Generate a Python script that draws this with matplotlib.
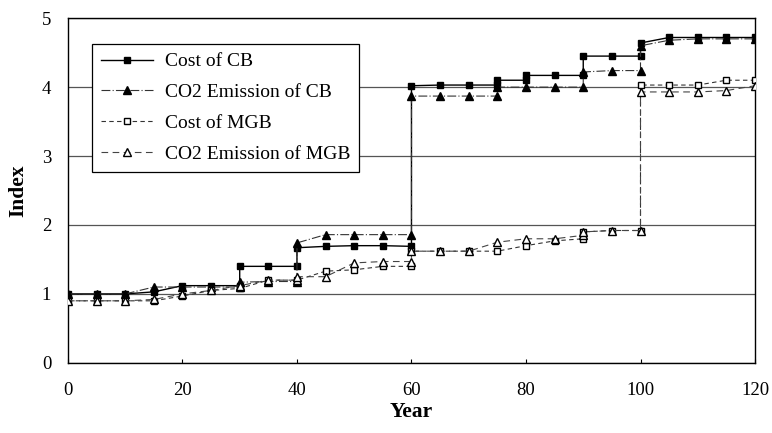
import matplotlib.pyplot as plt

plt.rcParams['font.family'] = ['Liberation Serif', 'DejaVu Serif']

# step series: a year listed twice holds the value before and after a replacement
cost_cb_x = [0, 5, 10, 15, 20, 25, 30, 30, 35, 40, 40, 45, 50, 55, 60, 60, 65, 70, 75, 75,
             80, 80, 85, 90, 90, 95, 100, 100, 105, 110, 115, 120]
cost_cb_y = [1.0, 1.0, 1.0, 1.03, 1.12, 1.12, 1.12, 1.40, 1.40, 1.40, 1.67, 1.69, 1.70, 1.70,
             1.69, 4.02, 4.03, 4.03, 4.03, 4.10, 4.10, 4.17, 4.17, 4.17, 4.45, 4.45, 4.45,
             4.64, 4.72, 4.72, 4.72, 4.72]

co2_cb_x = [0, 5, 10, 15, 20, 25, 30, 30, 35, 40, 40, 45, 50, 55, 60, 60, 65, 70, 75, 75,
            80, 85, 90, 90, 95, 100, 100, 105, 110, 115, 120]
co2_cb_y = [1.0, 1.0, 1.0, 1.10, 1.10, 1.10, 1.10, 1.17, 1.18, 1.18, 1.74, 1.86, 1.86, 1.86,
            1.86, 3.87, 3.87, 3.87, 3.87, 4.0, 4.0, 4.0, 4.0, 4.22, 4.24, 4.24, 4.60, 4.68,
            4.70, 4.70, 4.70]

cost_mgb_x = [0, 5, 10, 15, 20, 25, 30, 35, 40, 45, 50, 55, 60, 60, 65, 70, 75, 80, 85, 90,
              90, 95, 100, 100, 105, 110, 115, 120]
cost_mgb_y = [0.9, 0.9, 0.9, 0.9, 0.97, 1.05, 1.08, 1.2, 1.2, 1.33, 1.35, 1.4, 1.4, 1.62,
              1.62, 1.62, 1.62, 1.70, 1.77, 1.80, 1.90, 1.92, 1.92, 4.03, 4.03, 4.03, 4.10,
              4.10]

co2_mgb_x = [0, 5, 10, 15, 20, 25, 30, 35, 40, 40, 45, 50, 55, 60, 60, 65, 70, 75, 80, 85,
             90, 90, 95, 100, 100, 105, 110, 115, 120]
co2_mgb_y = [0.9, 0.9, 0.9, 0.92, 1.0, 1.05, 1.12, 1.2, 1.2, 1.25, 1.25, 1.45, 1.47, 1.47,
             1.62, 1.62, 1.62, 1.75, 1.80, 1.80, 1.85, 1.90, 1.92, 1.92, 3.93, 3.93, 3.93,
             3.95, 4.02]

x_ticks = [0, 20, 40, 60, 80, 100, 120]
y_ticks = [0, 1, 2, 3, 4, 5]

fig = plt.figure(figsize=(7.72, 4.33), dpi=100)
ax = fig.add_axes([0.088, 0.162, 0.89, 0.796])

ax.plot(cost_cb_x, cost_cb_y, color='black', lw=1.0, marker='s', ms=5,
        mfc='black', mec='black', label='Cost of CB', zorder=4)
ax.plot(co2_cb_x, co2_cb_y, color='#333333', lw=0.8, ls=(0, (8, 2, 1, 2)), marker='^', ms=6,
        mfc='black', mec='black', label='CO2 Emission of CB', zorder=4)
ax.plot(cost_mgb_x, cost_mgb_y, color='#333333', lw=0.8, ls=(0, (4, 3)), marker='s', ms=5,
        mfc='white', mec='black', mew=1.0, label='Cost of MGB', zorder=5)
ax.plot(co2_mgb_x, co2_mgb_y, color='#444444', lw=0.8, ls=(0, (6, 4)), marker='^', ms=5.5,
        mfc='white', mec='black', mew=1.0, label='CO2 Emission of MGB', zorder=5)

ax.set_xlim(0, 120)
ax.set_ylim(0, 5)
ax.set_xticks(x_ticks)
ax.set_yticks(y_ticks)
ax.tick_params(axis='both', direction='in', labelsize=13.5, length=3)
ax.tick_params(axis='y', length=0, pad=12)
ax.tick_params(axis='x', pad=14)
ax.yaxis.grid(True, color='#555555', lw=0.9)
ax.set_axisbelow(True)
for s in ax.spines.values():
    s.set_linewidth(1.0)

ax.set_xlabel('Year', fontsize=15.5, fontweight='bold', labelpad=2)
ax.set_ylabel('Index', fontsize=15.5, fontweight='bold', labelpad=10)

leg = ax.legend(loc='upper left', bbox_to_anchor=(0.035, 0.925), borderaxespad=0,
                fontsize=14, handlelength=2.7, handletextpad=0.6, labelspacing=0.68,
                borderpad=0.45, fancybox=False, framealpha=1, edgecolor='black')
leg.get_frame().set_linewidth(0.9)

fig.savefig('out.png', dpi=100)
